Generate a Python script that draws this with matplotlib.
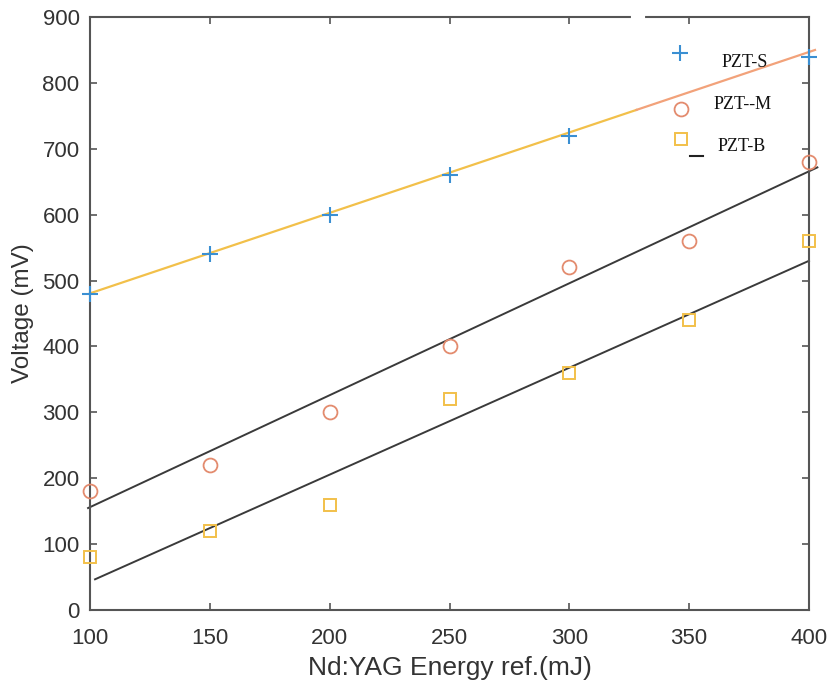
import numpy as np
import matplotlib
matplotlib.use("Agg")
import matplotlib.pyplot as plt

# ---- data ----
energy = [100, 150, 200, 250, 300, 350, 400]
pzt_s_x = [100, 150, 200, 250, 300, 400]
pzt_s = [480, 540, 600, 660, 720, 840]
pzt_m = [180, 220, 300, 400, 520, 560, 680]
pzt_b = [80, 120, 160, 320, 360, 440, 560]

# fitted lines (slope, intercept, x-start, x-end)
fit_s = (1.221, 358.5, 100, 402.5)
fit_s_switch = 328  # colour changes from yellow to orange here
fit_m = (1.699, -13.8, 99.2, 403.5)
fit_b = (1.6227, -119.1, 102.1, 400)

xticks = [100, 150, 200, 250, 300, 350, 400]
yticks = [0, 100, 200, 300, 400, 500, 600, 700, 800, 900]
labels = ["PZT-S", "PZT--M", "PZT-B"]

c_blue = "#3A8FD2"
c_orange = "#E38B6E"
c_yellow = "#F2C04A"
c_orange_line = "#F2A27A"
c_black = "#3a3a3a"
axis_col = "#555555"
text_col = "#333333"

plt.rcParams['font.family'] = ['Liberation Sans', 'DejaVu Sans']

fig = plt.figure(figsize=(8.27, 6.83), dpi=100)
ax = fig.add_axes([90/827, 73/683, 719/827, 593/683])

def fline(p, x0, x1, **kw):
    s, b, _, _ = p
    xs = np.array([x0, x1])
    ax.plot(xs, s*xs + b, clip_on=False, **kw)

fline(fit_s, fit_s[2], fit_s_switch, color=c_yellow, lw=1.6, zorder=2)
fline(fit_s, fit_s_switch, fit_s[3], color=c_orange_line, lw=1.6, zorder=2)
fline(fit_m, fit_m[2], fit_m[3], color=c_black, lw=1.4, zorder=2)
fline(fit_b, fit_b[2], fit_b[3], color=c_black, lw=1.4, zorder=2)

ax.plot(pzt_s_x, pzt_s, '+', color=c_blue, ms=11, mew=1.5, clip_on=False, zorder=3)
ax.plot(energy, pzt_m, 'o', mfc='none', mec=c_orange, ms=10, mew=1.3, clip_on=False, zorder=3)
ax.plot(energy, pzt_b, 's', mfc='none', mec=c_yellow, ms=9, mew=1.4, clip_on=False, zorder=3)

ax.set_xlim(100, 400)
ax.set_ylim(0, 900)
ax.set_xticks(xticks)
ax.set_yticks(yticks)
ax.tick_params(direction='in', length=5, width=1.2, color=axis_col,
               labelsize=16, labelcolor=text_col, top=True, right=True)
ax.tick_params(axis='x', pad=13)
ax.tick_params(axis='y', pad=7.5)
for sp in ax.spines.values():
    sp.set_color(axis_col)
    sp.set_linewidth(1.5)
ax.set_xlabel("Nd:YAG Energy ref.(mJ)", fontsize=19, color=text_col, labelpad=5)
ax.set_ylabel("Voltage (mV)", fontsize=17.5, color=text_col, labelpad=6)

# small gap in the top frame
ax.plot([0.755, 0.769], [1, 1], transform=ax.transAxes, color='white', lw=3,
        clip_on=False, zorder=5)

# hand-placed legend
ax.plot([0.820], [0.939], '+', color=c_blue, ms=11, mew=1.5, transform=ax.transAxes, clip_on=False)
ax.plot([0.822], [0.845], 'o', mfc='none', mec=c_orange, ms=10, mew=1.3, transform=ax.transAxes, clip_on=False)
ax.plot([0.822], [0.794], 's', mfc='none', mec=c_yellow, ms=9, mew=1.4, transform=ax.transAxes, clip_on=False)
ax.plot([0.835, 0.852], [0.766, 0.766], color='#222222', lw=1.5, transform=ax.transAxes)
legend_pos = [(0.910, 0.923), (0.908, 0.852), (0.907, 0.782)]
for lab, (lx, ly) in zip(labels, legend_pos):
    ax.text(lx, ly, lab, transform=ax.transAxes, ha='center', va='center',
            fontsize=13, family=['Liberation Serif', 'DejaVu Serif'], color='#111111')

fig.savefig("out.png", dpi=100)
